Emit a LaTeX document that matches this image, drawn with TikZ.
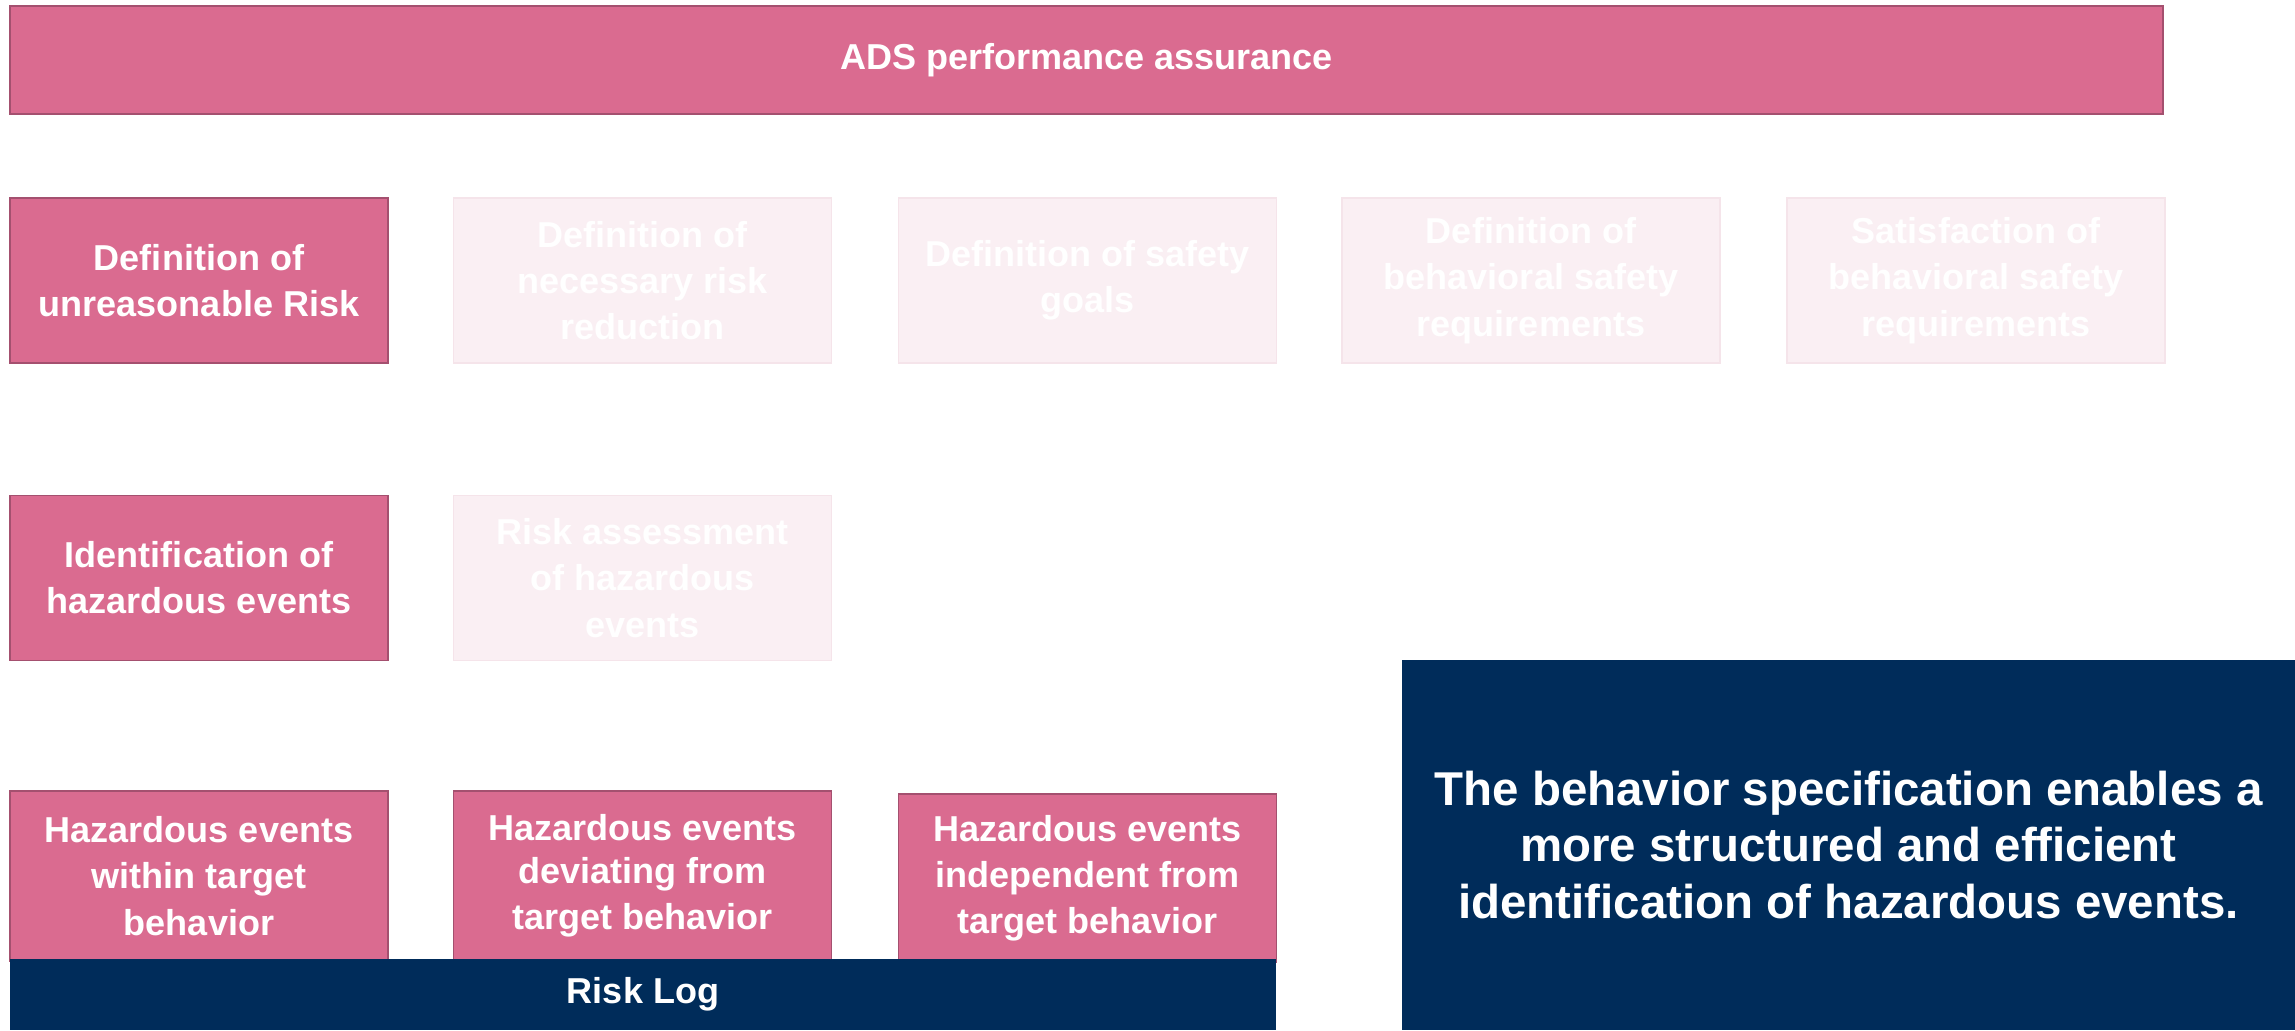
\documentclass[tikz,border=0pt]{standalone}
\usepackage{fontspec}
\setmainfont{Liberation Sans}
\definecolor{pinkfill}{HTML}{DA6B90}
\definecolor{pinkline}{HTML}{A4506F}
\definecolor{fadefill}{HTML}{FAEFF3}
\definecolor{fadeline}{HTML}{F5E4EA}
\definecolor{navy}{HTML}{002C5A}
\tikzset{
  boxbase/.style={rectangle, inner sep=2pt, align=center, text=white,
    font=\bfseries\fontsize{20.5}{26.3}\selectfont, line width=1.1pt},
  pinkbox/.style={boxbase, fill=pinkfill, draw=pinkline,
    minimum width=7.56cm, minimum height=3.30cm},
  fadebox/.style={boxbase, fill=fadefill, draw=fadeline,
    minimum width=7.56cm, minimum height=3.30cm},
  navybox/.style={rectangle, fill=navy, draw=none, text=white, align=center}
}
\begin{document}
\begin{tikzpicture}
\useasboundingbox (0,0) rectangle (45.9,-20.6);
\fill[white] (0,0) rectangle (45.9,-20.6);
% top bar
\node[pinkbox, minimum width=43.06cm, minimum height=2.16cm] (ads) at (21.73,-1.20) {\raisebox{-2.5pt}{ADS performance assurance}};
% row 1
\node[pinkbox] (defrisk) at (3.98,-5.61) {Definition of\\unreasonable Risk};
\node[fadebox] (defred) at (12.85,-5.61) {Definition of\\necessary risk\\reduction};
\node[fadebox] (defgoals) at (21.75,-5.61) {Definition of safety\\goals};
\node[fadebox] (defbeh) at (30.62,-5.61) {Definition of\\behavioral safety\\requirements};
\node[fadebox] (satbeh) at (39.52,-5.61) {Satisfaction of\\behavioral safety\\requirements};
% row 2
\node[pinkbox] (ident) at (3.98,-11.56) {Identification of\\hazardous events};
\node[fadebox] (assess) at (12.85,-11.56) {Risk assessment\\of hazardous\\events};
% row 3
\node[pinkbox, minimum height=3.40cm] (within) at (3.98,-17.52) {Hazardous events\\within target\\behavior};
\node[pinkbox, minimum height=3.40cm] (deviating) at (12.85,-17.52) {\raisebox{-2pt}{Hazardous events}\\deviating from\\target behavior};
\node[pinkbox, minimum height=3.36cm] (indep) at (21.75,-17.56) {Hazardous events\\independent from\\target behavior};
% risk log
\node[navybox, minimum width=25.32cm, minimum height=1.42cm,
  font=\bfseries\fontsize{20.5}{25.6}\selectfont] (risklog) at (12.86,-19.89) {\raisebox{-6pt}{Risk Log}};
% navy statement box
\node[navybox, minimum width=17.86cm, minimum height=7.4cm,
  font=\bfseries\fontsize{27}{32}\selectfont] (statement) at (36.97,-16.90)
  {The behavior specification enables a\\more structured and efficient\\identification of hazardous events.};
\end{tikzpicture}
\end{document}
